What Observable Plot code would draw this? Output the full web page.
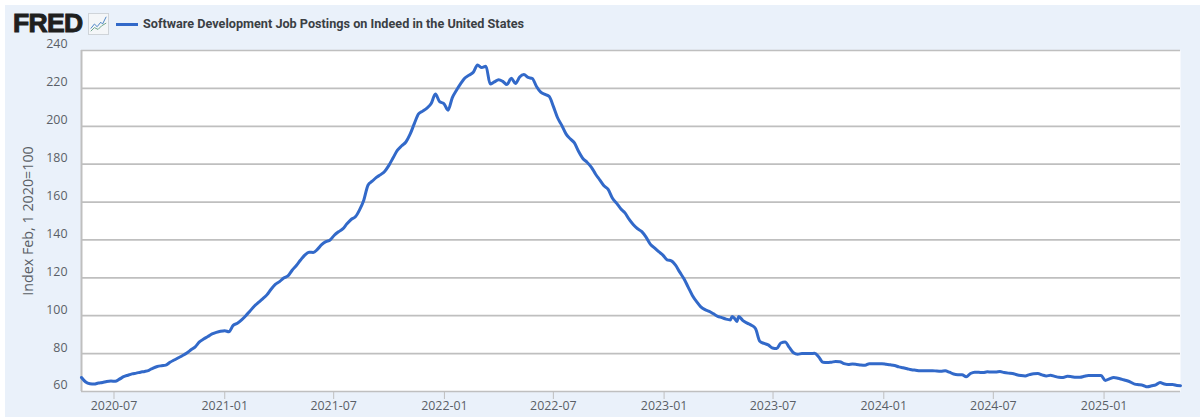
<!DOCTYPE html>
<html>
<head>
<meta charset="utf-8">
<script src="https://cdn.jsdelivr.net/npm/d3@7"></script>
<script src="https://cdn.jsdelivr.net/npm/@observablehq/plot@0.6"></script>
<style>
  html,body{margin:0;padding:0;background:#fff;width:1200px;height:417px;overflow:hidden}
  #panel{position:absolute;left:5px;top:5px;width:1195px;height:412px;background:#eaf1fa}
  #chart{position:absolute;left:0;top:0}
  #chart svg{display:block;background:transparent}
  #logo{position:absolute;left:13px;top:13px;font:900 26.5px/21px "Liberation Sans",sans-serif;height:21px;color:#1f1f1f;letter-spacing:-0.7px;-webkit-text-stroke:1px #1f1f1f}
  #icon{position:absolute;left:88px;top:13px;width:21px;height:22px;background:#f4f6f8;border:1px solid #cfd4d9;box-sizing:border-box;display:block}
  #swatch{position:absolute;left:116px;top:23px;width:22px;height:3px;background:#3269c9}
  #title{position:absolute;left:143px;top:15px;font:700 12.66px/18px Roboto,sans-serif;color:#3b3f44;white-space:nowrap}
</style>
</head>
<body>
<div id="panel"></div>
<div id="chart"></div>
<div id="logo">FRED</div>
<svg id="icon" viewBox="0 0 21 22"><polyline points="2,16 6,11 9,14 13,9 15,11 19,3" fill="none" stroke="#4f86c6" stroke-width="1.1"/><polyline points="2,19 6,15 10,17 14,13 19,10" fill="none" stroke="#6fa58a" stroke-width="1.1"/></svg>
<div id="swatch"></div>
<div id="title">Software Development Job Postings on Indeed in the United States</div>
<script>
const seriesName = "Software Development Job Postings on Indeed in the United States";
const yLabel = "Index Feb, 1 2020=100";
const firstWeek = "2020-05-08";
const lastDay = "2025-05-08";
const weeklyValues = [
67.4,65,64.1,63.9,64.5,64.8,65.3,65.5,65.4,66.5,
67.8,68.6,69.3,69.7,70.2,70.6,71.2,72.4,73.2,73.6,
73.9,75.4,76.6,77.8,79,80.3,82,83.6,86.2,87.7,
89,90.4,91.2,91.8,92.1,91.5,94.9,96,97.8,100,
102.5,105,107,108.9,111,114,116.5,118,119.9,121,
124,126.5,129.4,132,133.5,133.4,135,137.5,139.1,140,
142.5,144.3,145.8,148.5,150.8,152.2,155.9,161,168.9,171,
173,174.5,176.3,179.5,183.5,187.4,189.7,191.7,195.8,201.4,
206.5,208,209.6,212,217,213,212,208.5,215,219,
222.5,225.5,227,228.5,232.3,231,231.7,222.3,223.4,224.6,
223.7,222,225.4,222.6,226,227.3,225.8,225.2,221,218,
216.8,215.8,210.5,204.5,200.5,196,193.4,191.2,186.7,183,
181,178.5,174.8,171.7,168.6,166.7,162.1,159.4,156.5,154.3,
150.8,148,145.9,144.4,141.5,137.8,135.8,133.8,132,129.5,
129,126.7,123,119.5,115.1,110.7,107.4,104.7,103.2,102.3,
101,99.7,99,98.2,97.8,98.6,99.6,97.4,96.1,95,
93.1,86.5,85.4,84.6,83,82.7,85.6,86.1,83.3,80.5,
79.7,80,80,80,80.2,78.2,75.4,75.3,75.5,75.8,
75.7,74.7,74.3,74.5,74.3,74,73.9,74.7,74.7,74.7,
74.7,74.4,74.1,73.7,73,72.5,72,71.5,71.2,70.9,
70.9,70.9,71,70.8,70.7,70.9,70.2,69.2,68.9,68.9,
67.8,69.5,70.2,70.1,70,70.4,70.3,70.3,70.5,70,
69.7,69.5,68.8,68.4,68.2,68.9,69.4,69.5,68.8,68.2,
68.6,68,67.5,67.4,68,67.8,67.5,67.5,68,68.4,
68.4,68.4,68.4,65.8,66.7,67.4,67,66.4,65.8,65,
63.9,63.6,63.2,62.5,63,63.5,64.7,64,63.7,63.7,63.2
];
const extraDates = ["2023-04-24","2023-05-02","2025-05-08"];
const extraValues = [99.6,97,63.1];
const yTicks = [60,80,100,120,140,160,180,200,220,240];
const xTickLabels = ["2020-07","2021-01","2021-07","2022-01","2022-07","2023-01","2023-07","2024-01","2024-07","2025-01"];

const parse = d3.utcParse("%Y-%m-%d");
const parseTick = d3.utcParse("%Y-%m");
const start = parse(firstWeek);
const rows = weeklyValues.map((v,i)=>({date:d3.utcDay.offset(start,7*i),value:v}))
  .concat(extraDates.map((d,i)=>({date:parse(d),value:extraValues[i]})))
  .sort((a,b)=>a.date-b.date);

const grid = "#bfbfbf";
const ink = "#5a5f66";
const fig = Plot.plot({
  width:1200,height:417,
  marginLeft:81,marginRight:20,marginTop:50,marginBottom:26,
  style:{background:"transparent",fontFamily:'"Open Sans",sans-serif',fontSize:"12.4px",color:ink},
  x:{type:"utc",domain:[start,parse(lastDay)],label:null},
  y:{domain:[60,240],label:null},
  marks:[
    Plot.frame({fill:"#fff",stroke:"none"}),
    Plot.ruleY(yTicks,{stroke:grid,strokeWidth:1.7}),
    Plot.ruleX([start],{stroke:grid,strokeWidth:2}),
    Plot.axisX({ticks:xTickLabels.map(parseTick),tickFormat:d3.utcFormat("%Y-%m"),tickSize:8,tickPadding:2,stroke:grid,label:null,color:ink}),
    Plot.axisY({ticks:yTicks,tickSize:0,tickPadding:14,dy:-6,label:null,color:ink,fontSize:12.4}),
    Plot.text([yLabel],{frameAnchor:"left",textAnchor:"middle",rotate:-90,dx:-53,fontSize:14.3,fill:ink}),
    Plot.line(rows,{x:"date",y:"value",stroke:"#3269c9",strokeWidth:3,curve:"monotone-x",strokeLinejoin:"round",title:()=>seriesName})
  ]
});
document.getElementById("chart").appendChild(fig);
</script>
</body>
</html>
